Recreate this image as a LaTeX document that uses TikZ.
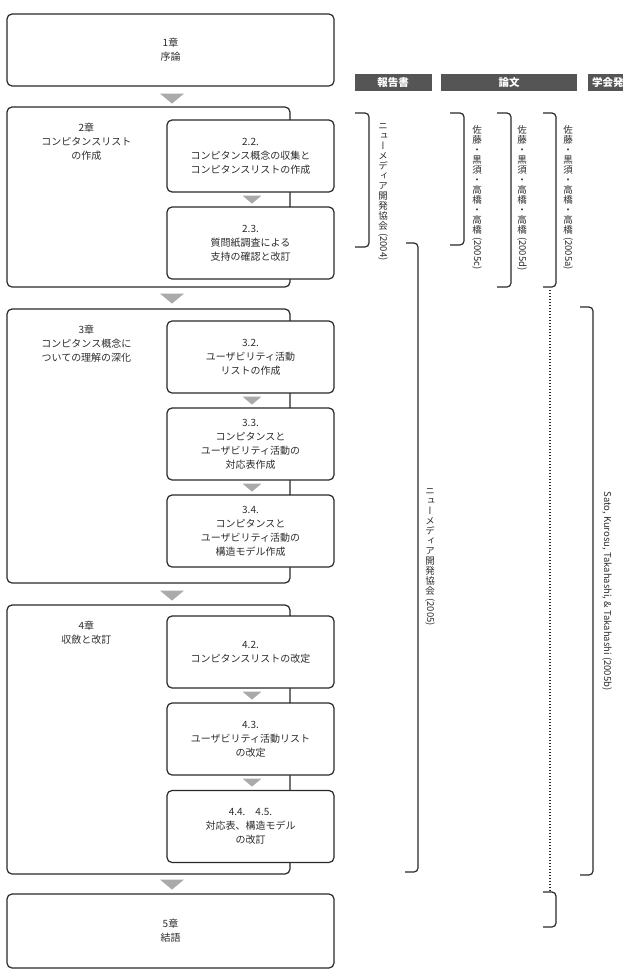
\documentclass[tikz,border=0pt]{standalone}
\usepackage{fontspec}
\setmainfont{Noto Sans CJK JP}
\newfontfamily\tatefont[RawFeature=+vert]{Noto Sans CJK JP}
\usepackage{tikz}
\usetikzlibrary{positioning, calc}
\definecolor{linecolor}{RGB}{40, 40, 40}
\definecolor{textcolor}{RGB}{45, 45, 45}
\definecolor{tricolor}{RGB}{170, 170, 170}
\definecolor{headcolor}{RGB}{85, 85, 85}
\newcommand{\bigtri}[1]{\fill[tricolor] (#1) ++(-12,0) -- ++(24,0) -- ++(-12,10) -- cycle;}
\newcommand{\smalltri}[1]{\fill[tricolor] (#1) ++(-9.5,0) -- ++(19,0) -- ++(-9.5,8) -- cycle;}

\begin{document}
\begin{tikzpicture}[
  x=1pt, y=-1pt,
  font=\fontsize{10}{14}\selectfont, text=textcolor,
  chapbox/.style={draw=linecolor, fill=white, line width=1.2pt, rounded corners=5pt, align=center, inner sep=0pt},
  bigbox/.style={chapbox, minimum width=327pt},
  outerbox/.style={chapbox, minimum width=283pt},
  secbox/.style={chapbox, minimum width=167pt, minimum height=72pt},
  chaplabel/.style={align=center, inner sep=0pt, anchor=north},
  headbar/.style={fill=headcolor, text=white, font=\fontsize{10.5}{12}\selectfont\bfseries, minimum height=17pt, inner sep=0pt},
  bracket/.style={draw=linecolor, line width=1.2pt, rounded corners=4pt},
  dotline/.style={draw=linecolor, line width=1.2pt, dash pattern=on 1.2pt off 1.8pt},
  tate/.style={font=\tatefont\fontsize{9.5}{10}\selectfont, align=center, inner sep=0pt}
]
\useasboundingbox (0,0) rectangle (623,972);

\node[bigbox, minimum height=72pt] (ch1) at (170.5,50) {1章\\序論};

\node[outerbox, minimum height=180pt] (ch2) at (148.5,197) {};
\node[chaplabel] (l2) at ($(ch2.north west)+(80,16)$) {2章\\コンピタンスリスト\\の作成};
\node[secbox] (s22) at (250.5,156) {2.2.\\コンピタンス概念の収集と\\コンピタンスリストの作成};
\node[secbox] (s23) at (250.5,243) {2.3.\\質問紙調査による\\支持の確認と改訂};

\node[outerbox, minimum height=274pt] (ch3) at (148.5,446) {};
\node[chaplabel] (l3) at ($(ch3.north west)+(80,16)$) {3章\\コンピタンス概念に\\ついての理解の深化};
\node[secbox] (s32) at (250.5,357) {3.2.\\ユーザビリティ活動\\リストの作成};
\node[secbox] (s33) at (250.5,444) {3.3.\\コンピタンスと\\ユーザビリティ活動の\\対応表作成};
\node[secbox] (s34) at (250.5,531) {3.4.\\コンピタンスと\\ユーザビリティ活動の\\構造モデル作成};

\node[outerbox, minimum height=269pt] (ch4) at (148.5,739.5) {};
\node[chaplabel] (l4) at ($(ch4.north west)+(80,16)$) {4章\\収斂と改訂};
\node[secbox] (s42) at (250.5,652) {4.2.\\コンピタンスリストの改定};
\node[secbox] (s43) at (250.5,739) {4.3.\\ユーザビリティ活動リスト\\の改定};
\node[secbox] (s44) at (250.5,826.5) {4.4.\hspace{10pt}4.5.\\対応表、構造モデル\\の改訂};

\node[bigbox, minimum height=74pt] (ch5) at (170.5,931) {5章\\結語};

\coordinate (tcol) at (172,0);
\coordinate (scol) at (252,0);
\bigtri{$(tcol |- ch1.south)+(0,7)$}
\bigtri{$(tcol |- ch2.south)+(0,6)$}
\bigtri{$(tcol |- ch3.south)+(0,7)$}
\bigtri{$(tcol |- ch4.south)+(0,5)$}
\smalltri{$(scol |- s22.south)+(0,3)$}
\smalltri{$(scol |- s32.south)+(0,3)$}
\smalltri{$(scol |- s33.south)+(0,3)$}
\smalltri{$(scol |- s42.south)+(0,3)$}
\smalltri{$(scol |- s43.south)+(0,3)$}

\node[headbar, minimum width=77pt] (hrep) at (393,82.5) {報告書};
\node[headbar, minimum width=136pt] (hron) at (509,82.5) {論文};
\node[headbar, minimum width=50pt] (hgak) at (613,82.5) {学会発表};

\draw[bracket] (355,113) -- (369,113) -- (369,247) -- (355,247);
\draw[bracket] (406,243) -- (418,243) -- (418,872) -- (405,872);
\draw[bracket] (450,113) -- (464,113) -- (464,245) -- (450,245);
\draw[bracket] (497,113) -- (511,113) -- (511,287) -- (497,287);
\draw[bracket] (543,113) -- (556,113) -- (556,287) -- (543,287);
\draw[bracket] (543,892) -- (556,892) -- (556,927) -- (543,927);
\draw[bracket] (580,307) -- (593,307) -- (593,875) -- (580,875);
\coordinate (dtop) at (550,290);
\coordinate (dbot) at (550,891);
\draw[dotline] (dtop) -- (dbot);

\node[tate, anchor=north] (r04) at (383,123) {ニ\\ュ\\ー\\メ\\デ\\ィ\\ア\\開\\発\\協\\会\\[-6pt]\rotatebox{-90}{(2004)}};
\node[tate] (r05) at (430,557) {ニ\\ュ\\ー\\メ\\デ\\ィ\\ア\\開\\発\\協\\会\\[-6pt]\rotatebox{-90}{(2005)}};
\node[tate, anchor=north] (p05c) at (477,125) {佐\\藤\\・\\黒\\須\\・\\高\\橋\\・\\高\\橋\\[-6pt]\rotatebox{-90}{(2005c)}};
\node[tate, anchor=north] (p05d) at (522,125) {佐\\藤\\・\\黒\\須\\・\\高\\橋\\・\\高\\橋\\[-6pt]\rotatebox{-90}{(2005d)}};
\node[tate, anchor=north] (p05a) at (568,125) {佐\\藤\\・\\黒\\須\\・\\高\\橋\\・\\高\\橋\\[-6pt]\rotatebox{-90}{(2005a)}};
\node[rotate=-90, font=\fontsize{9.5}{11}\selectfont] (sato) at (607,591) {Sato, Kurosu, Takahashi, \& Takahashi (2005b)};
\end{tikzpicture}
\end{document}
